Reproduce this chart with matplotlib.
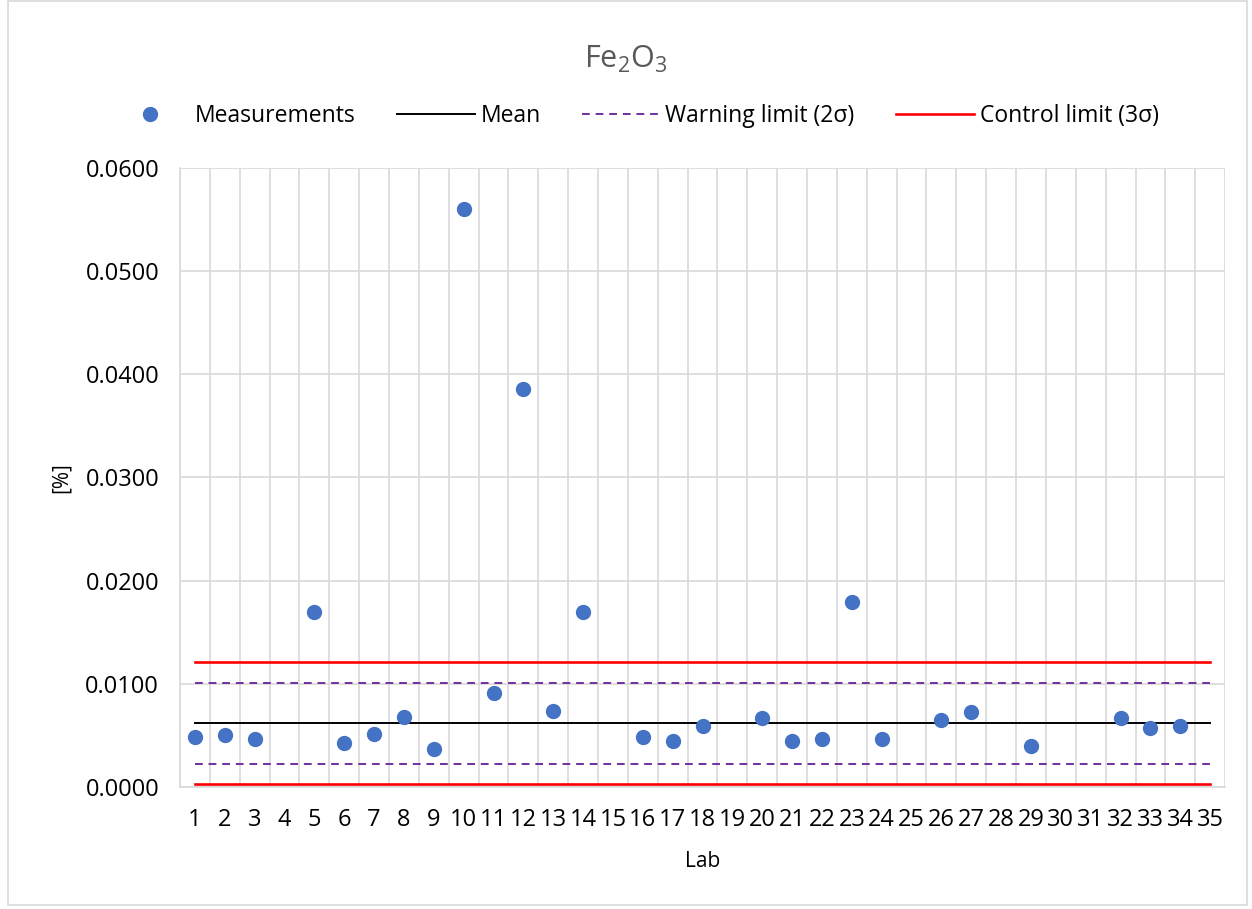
import numpy as np
import matplotlib
matplotlib.use("Agg")
import matplotlib.pyplot as plt
from matplotlib.patches import Rectangle

plt.rcParams['font.family'] = ['Open Sans', 'DejaVu Sans']

# ── data ───────────────────────────────────────────────────────────────────────
labs = list(range(1, 36))
lab_ids = [1, 2, 3, 5, 6, 7, 8, 9, 10, 11, 12, 13, 14, 16, 17, 18,
           20, 21, 22, 23, 24, 26, 27, 29, 32, 33, 34]
values = [0.0048, 0.0050, 0.0047, 0.0170, 0.0043, 0.0051, 0.0068, 0.0037,
          0.0560, 0.0091, 0.0386, 0.0074, 0.0170, 0.0048, 0.0045, 0.0059,
          0.0067, 0.0045, 0.0047, 0.0179, 0.0047, 0.0065, 0.0073, 0.0040,
          0.0067, 0.0057, 0.0059]
mean_val = 0.0062
warn_hi, warn_lo = 0.0101, 0.0022
ctrl_hi, ctrl_lo = 0.0121, 0.0003

# ── figure ─────────────────────────────────────────────────────────────────────
fig = plt.figure(figsize=(12.52, 9.09), dpi=100)
fig.patches.append(Rectangle((0.006, 0.004), 0.99, 0.995, transform=fig.transFigure,
                             fill=False, edgecolor="#d9d9d9", linewidth=1.2))
ax = fig.add_axes([0.1438, 0.1342, 0.8347, 0.681])

ax.plot(lab_ids, values, "o", color="#4472C4", markersize=10, zorder=5,
        label="Measurements")
ax.plot([labs[0], labs[-1]], [mean_val] * 2, color="black", lw=1.4, label="Mean")
ax.plot([labs[0], labs[-1]], [warn_hi] * 2, color="#7030A0", lw=1.4,
        dashes=(4, 3), label="Warning limit (2σ)")
ax.plot([labs[0], labs[-1]], [warn_lo] * 2, color="#7030A0", lw=1.4, dashes=(4, 3))
ax.plot([labs[0], labs[-1]], [ctrl_hi] * 2, color="#FF0000", lw=1.9,
        label="Control limit (3σ)")
ax.plot([labs[0], labs[-1]], [ctrl_lo] * 2, color="#FF0000", lw=1.9)

ax.set_xlim(0.5, 35.5)
ax.set_ylim(0, 0.06)
ax.set_xticks(labs)
ax.set_xticks(np.arange(0.5, 36, 1), minor=True)
ax.set_yticks(np.arange(0, 0.0601, 0.01))
ax.set_yticklabels([f"{v:.4f}" for v in np.arange(0, 0.0601, 0.01)])
ax.tick_params(axis="both", which="both", length=0, labelsize=17, colors="black")
ax.tick_params(axis="x", pad=15)
ax.tick_params(axis="y", pad=15)
ax.grid(False)
ax.xaxis.grid(True, which="minor", color="#d9d9d9", lw=1.2)
ax.yaxis.grid(True, which="major", color="#d9d9d9", lw=1.2)
ax.set_axisbelow(True)
for s in ["top", "right"]:
    ax.spines[s].set_visible(False)
for s in ["left", "bottom"]:
    ax.spines[s].set_color("#d9d9d9")
    ax.spines[s].set_linewidth(1.2)

ax.set_xlabel("Lab", fontsize=15, labelpad=14)
ax.set_ylabel("[%]", fontsize=15, labelpad=10)

fig.text(0.5, 0.935, "Fe$_\\mathregular{2}$O$_\\mathregular{3}$", ha="center",
         va="center", fontsize=22, color="#595959")

handles, lbls = ax.get_legend_handles_labels()
fig.legend(handles, lbls, loc="center", bbox_to_anchor=(0.507, 0.872), ncol=4,
           frameon=False, fontsize=16.5, handlelength=3.4, columnspacing=1.8,
           handletextpad=0.25)

fig.savefig("out.png", dpi=100)
